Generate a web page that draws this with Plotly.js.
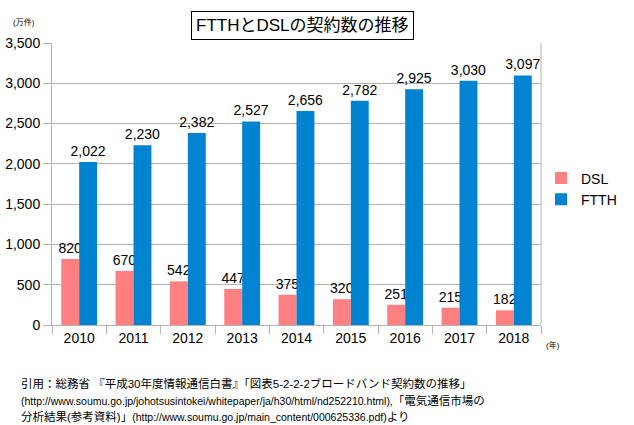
<!DOCTYPE html>
<html>
<head>
<meta charset="utf-8">
<script src="https://cdn.plot.ly/plotly-3.0.1.min.js"></script>
<style>html,body{margin:0;padding:0;background:#fff;}#chart{width:634px;height:425px;}</style>
</head>
<body>
<div id="chart"></div>
<script>
var years = ['2010','2011','2012','2013','2014','2015','2016','2017','2018'];
var dsl = [820, 670, 542, 447, 375, 320, 251, 215, 182];
var ftth = [2022, 2230, 2382, 2527, 2656, 2782, 2925, 3030, 3097];
var seriesNames = ['DSL', 'FTTH'];
var titleText = 'FTTHとDSLの契約数の推移';
var yUnit = '(万件)';
var xUnit = '(年)';
var sourceLines = [
  '引用：総務省 『平成30年度情報通信白書』「図表5-2-2-2ブロードバンド契約数の推移」',
  '(http://www.soumu.go.jp/johotsusintokei/whitepaper/ja/h30/html/nd252210.html),「電気通信市場の',
  '分析結果(参考資料)」(http://www.soumu.go.jp/main_content/000625336.pdf)より'
];

var FONT = 'Liberation Sans, Arial, Noto Sans CJK JP, sans-serif';
var JFONT = 'Liberation Sans, Noto Sans CJK JP, sans-serif';

function narrowUrls(s) {
  return s.replace(/[\x21-\x7e]{12,}/g, function(m){ return '<span style="font-size:10.5px">' + m + '</span>'; });
}

var traces = [
  {type:'bar', name:seriesNames[0], x:years, y:dsl, marker:{color:'#FF8080'},
   text:dsl.map(function(v){return v.toLocaleString('en-US');}), textposition:'outside',
   textfont:{size:14, color:'#000', family:FONT}, constraintext:'none', cliponaxis:false, hoverinfo:'x+y'},
  {type:'bar', name:seriesNames[1], x:years, y:ftth, marker:{color:'#0084D1'},
   text:ftth.map(function(v){return v.toLocaleString('en-US');}), textposition:'outside',
   textfont:{size:14, color:'#000', family:FONT}, constraintext:'none', cliponaxis:false, hoverinfo:'x+y'}
];

var annotations = [
  {text:titleText, xref:'paper', yref:'paper', x:(307-52)/497, y:1+(43-25)/282, xanchor:'center', yanchor:'middle',
   showarrow:false, font:{size:17, family:JFONT, color:'#000'}, bordercolor:'#000', borderwidth:1, borderpad:4, bgcolor:'#fff'},
  {text:yUnit, xref:'paper', yref:'paper', x:(10-52)/497, y:1+(43-22)/282, xanchor:'left', yanchor:'middle',
   showarrow:false, font:{size:8, family:JFONT, color:'#000'}},
  {text:xUnit, xref:'paper', yref:'paper', x:(552-52)/497, y:-(345-325)/282, xanchor:'left', yanchor:'middle',
   showarrow:false, font:{size:8, family:JFONT, color:'#000'}}
];
var lineY = [383, 400, 416];
sourceLines.forEach(function(s, i){
  annotations.push({text:narrowUrls(s), xref:'paper', yref:'paper', x:(18-52)/497, y:-(lineY[i]-325)/282,
    xanchor:'left', yanchor:'middle', align:'left', showarrow:false, font:{size:11.5, family:JFONT, color:'#000'}});
});

var layout = {
  width:634, height:425,
  margin:{l:52, r:85, t:43, b:100, pad:0},
  paper_bgcolor:'#fff', plot_bgcolor:'#fff',
  font:{family:FONT, size:14, color:'#000'},
  barmode:'group', bargap:0.34, bargroupgap:0,
  showlegend:true,
  legend:{x:1.0, xanchor:'left', y:(325-189)/282, yanchor:'middle', xref:'paper', yref:'paper',
          font:{size:14, family:FONT}, itemwidth:30, tracegroupgap:4, bgcolor:'rgba(0,0,0,0)'},
  xaxis:{type:'category', tickson:'boundaries', ticks:'outside', ticklen:8, tickcolor:'#b3b3b3',
         showline:true, linecolor:'#b3b3b3', linewidth:1, mirror:false, showgrid:false,
         tickfont:{size:14, color:'#000'}, fixedrange:true},
  yaxis:{range:[0,3500], dtick:500, tickformat:',d', ticks:'outside', ticklen:8, tickcolor:'#b3b3b3',
         showline:true, linecolor:'#b3b3b3', showgrid:true, gridcolor:'#b3b3b3', zeroline:false,
         tickfont:{size:14, color:'#000'}, fixedrange:true},
  shapes:[
    {type:'line', xref:'paper', yref:'paper', x0:1, x1:1, y0:0, y1:1, line:{color:'#b3b3b3', width:1}}
  ],
  annotations:annotations
};

Plotly.newPlot('chart', traces, layout, {displayModeBar:false, staticPlot:true});
</script>
</body>
</html>
